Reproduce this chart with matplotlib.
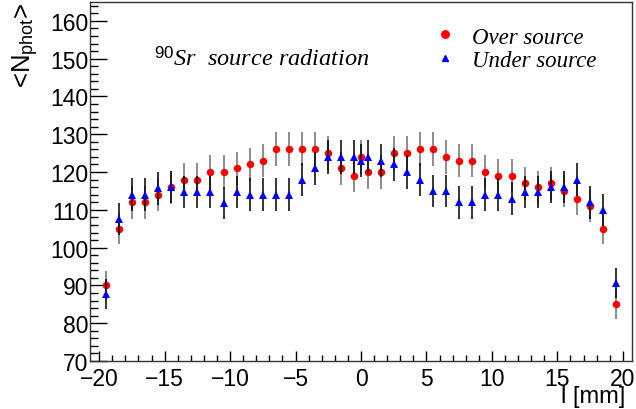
import numpy as np
import matplotlib
matplotlib.use("Agg")
import matplotlib.pyplot as plt
from matplotlib.ticker import MultipleLocator
from matplotlib.lines import Line2D

plt.rcParams['font.family'] = ['Liberation Sans', 'DejaVu Sans']
plt.rcParams['mathtext.fontset'] = 'custom'
plt.rcParams['mathtext.rm'] = 'Liberation Sans'
plt.rcParams['mathtext.it'] = 'Liberation Serif:italic'
plt.rcParams['mathtext.default'] = 'it'

# positions along the fibre [mm]
positions = [-19.5, -18.5, -17.5, -16.5, -15.5, -14.5, -13.5, -12.5, -11.5, -10.5,
             -9.5, -8.5, -7.5, -6.5, -5.5, -4.5, -3.5, -2.5, -1.5, -0.5,
             0.0,
             0.5, 1.5, 2.5, 3.5, 4.5, 5.5, 6.5, 7.5, 8.5, 9.5,
             10.5, 11.5, 12.5, 13.5, 14.5, 15.5, 16.5, 17.5, 18.5, 19.5]

over_source = [90, 105, 112, 112, 114, 116, 118, 118, 120, 120,
               121, 122, 123, 126, 126, 126, 126, 125, 121, 119,
               124,
               120, 120, 125, 125, 126, 126, 124, 123, 123, 120,
               119, 119, 117, 116, 117, 115, 113, 111, 105, 85]
over_err = [3.9, 4.1, 4.3, 4.3, 4.3, 4.4, 4.4, 4.4, 4.4, 4.4,
            4.4, 4.4, 4.4, 4.5, 4.5, 4.5, 4.5, 4.5, 4.4, 4.4,
            4.4,
            4.4, 4.4, 4.5, 4.5, 4.5, 4.5, 4.4, 4.4, 4.4, 4.4,
            4.4, 4.4, 4.4, 4.4, 4.4, 4.3, 4.3, 4.3, 4.1, 4.0]

under_source = [87.7, 107.6, 114, 114, 115.7, 116, 114.7, 114.7, 114.7, 111.8,
                114.7, 114, 114, 114, 114, 118, 121, 124, 124, 124,
                123,
                124, 123, 122, 120, 118, 115, 115, 112, 112, 114,
                114, 113, 114.7, 114.7, 116, 116, 118, 112, 110, 90.6]
under_err = [3.9, 4.2, 4.3, 4.3, 4.3, 4.3, 4.3, 4.3, 4.3, 4.3,
             4.3, 4.3, 4.3, 4.3, 4.3, 4.4, 4.4, 4.4, 4.4, 4.4,
             4.4,
             4.4, 4.4, 4.4, 4.4, 4.4, 4.3, 4.3, 4.3, 4.3, 4.3,
             4.3, 4.3, 4.3, 4.3, 4.3, 4.3, 4.4, 4.3, 4.2, 4.0]

labels = ["Over source", "Under source"]
annotation = r"$^{90}$Sr  source radiation"

W, H = 636, 410
fig = plt.figure(figsize=(W / 100, H / 100), dpi=100)
ax = fig.add_axes([90 / W, 48 / H, 542 / W, 359 / H])

ax.errorbar(positions, over_source, yerr=over_err, fmt='o', color='red',
            ecolor='#6e6e6e', elinewidth=1.1, capsize=3.0, capthick=1.1,
            markersize=5.4, markeredgewidth=0, zorder=3)
ax.errorbar(positions, under_source, yerr=under_err, fmt='^', color='blue',
            ecolor='black', elinewidth=1.1, capsize=3.0, capthick=1.1,
            markersize=5.6, markeredgewidth=0, zorder=4)

ax.set_xlim(-20.7, 20.7)
ax.set_ylim(70, 165)
ax.xaxis.set_major_locator(MultipleLocator(5))
ax.xaxis.set_minor_locator(MultipleLocator(1))
ax.yaxis.set_major_locator(MultipleLocator(10))
ax.yaxis.set_minor_locator(MultipleLocator(2))
ax.tick_params(axis='x', which='major', direction='in', length=7.5, width=1,
               labelsize=16.5, pad=4, top=False)
ax.tick_params(axis='x', which='minor', direction='in', length=4, width=1, top=False)
ax.tick_params(axis='y', which='major', direction='in', length=12, width=1,
               labelsize=16.5, pad=1, right=False)
ax.tick_params(axis='y', which='minor', direction='in', length=6, width=1, right=False)
for s in ax.spines.values():
    s.set_linewidth(1.0)
    s.set_color('#333333')

ax.set_xlabel("l [mm]", fontsize=17)
ax.xaxis.set_label_coords(1 - 7 / 542, -0.068, transform=ax.transAxes)
ax.xaxis.label.set_horizontalalignment('right')
ax.xaxis.label.set_verticalalignment('top')
ax.set_ylabel(r"<N$_{\mathrm{phot}}$>", fontsize=18.5, loc='top', labelpad=7)

ax.text(0.118, 0.845, annotation, transform=ax.transAxes,
        fontsize=17.5, family='Liberation Serif', style='italic', va='center')

handles = [Line2D([], [], marker='o', color='red', linestyle='none', markersize=5.4),
           Line2D([], [], marker='^', color='blue', linestyle='none', markersize=5)]
ax.legend(handles, labels, loc='upper left', bbox_to_anchor=(422 / W, 1 - 16 / H),
          bbox_transform=fig.transFigure, frameon=False,
          prop={'family': 'Liberation Serif', 'style': 'italic', 'size': 16.5},
          handlelength=1.0, handletextpad=0.7, labelspacing=0.1, borderpad=0)

fig.savefig("out.png", dpi=100)
